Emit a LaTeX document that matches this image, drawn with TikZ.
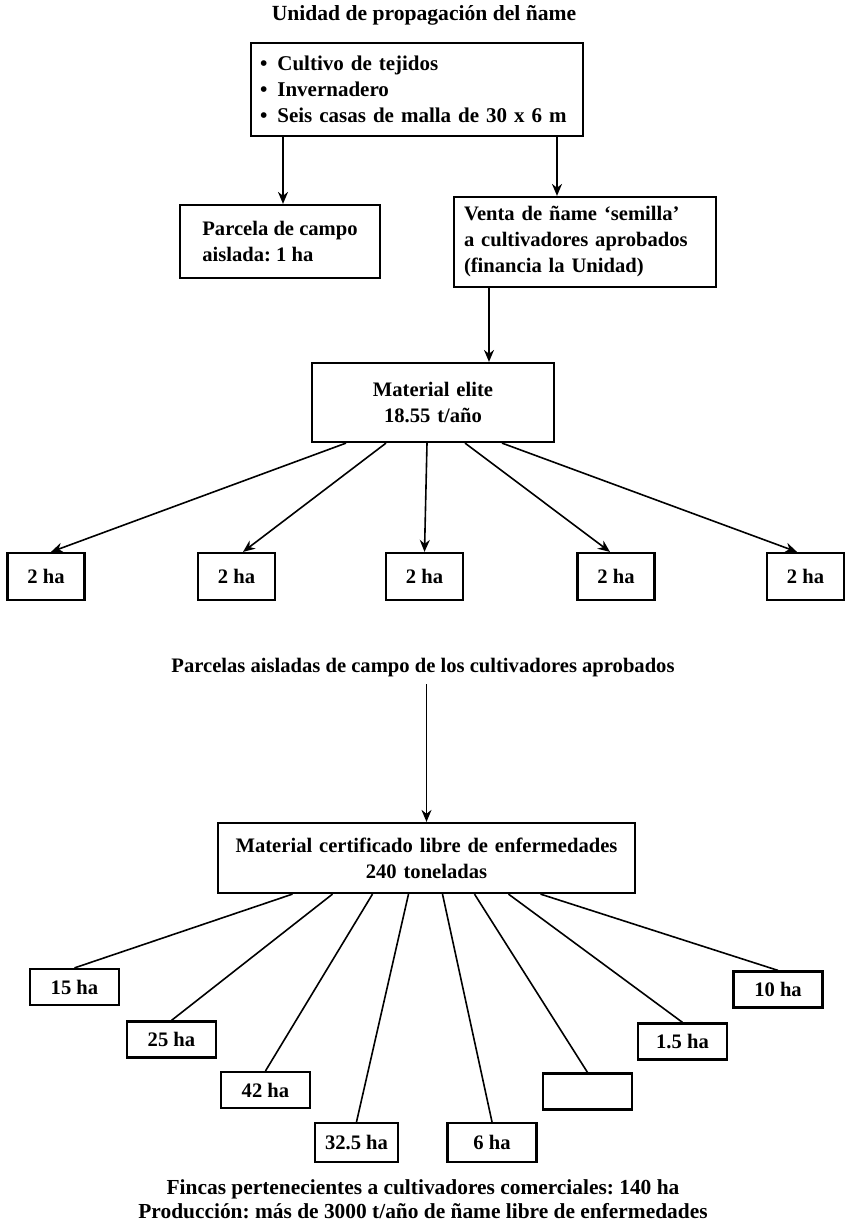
\documentclass[tikz,border=0pt]{standalone}
\usepackage{fontspec}
\setmainfont{Liberation Serif}
\usetikzlibrary{arrows.meta}
\tikzset{
  every node/.style={font=\fontsize{10.3}{13}\selectfont\bfseries},
  caja/.style={draw, line width=1.1pt, inner xsep=5pt, inner ysep=0pt},
  hacaja/.style={draw, line width=1.1pt, inner sep=0pt, minimum width=38.5pt, minimum height=23.5pt},
  finca/.style={draw, line width=1.1pt, inner sep=0pt, minimum width=44.5pt, minimum height=18pt},
  flecha/.style={line width=0.8pt, -{Stealth[length=6pt,width=5pt]}},
  rama/.style={line width=0.8pt},
}
\begin{document}
\frenchspacing
\begin{tikzpicture}[x=0.5pt,y=-0.5pt]
\useasboundingbox (0,0) rectangle (847,1225);
% unidad de propagacion
\node[font=\fontsize{10.8}{13}\selectfont\bfseries] (titulo) at (424,15){Unidad de propagación del ñame};
\node[caja, inner xsep=4.5pt, text width=157pt, align=left, minimum height=46.5pt, font=\fontsize{10.5}{13}\selectfont\bfseries] (unidad) at (417,89.5){\textbullet\hspace{5pt}Cultivo de tejidos\\ \textbullet\hspace{5pt}Invernadero\\ \textbullet\hspace{5pt}Seis casas de malla de 30 x 6 m};
\node[caja, align=left, minimum width=100pt, minimum height=36.5pt] (parcela) at (280,241.5){Parcela de campo\\ aislada: 1 ha};
\node[caja, text width=121pt, align=left, minimum height=45pt] (venta) at (585,242){Venta de ñame ‘semilla’\\ a cultivadores aprobados\\ (financia la Unidad)};
\coordinate (pin) at ([xshift=1.5pt]parcela.north);
\coordinate (vin) at ([xshift=-14pt]venta.north);
\draw[flecha](unidad.south -| pin) -- (pin);
\draw[flecha](unidad.south -| vin) -- (vin);
% material elite
\node[caja, text width=111pt, align=center, minimum height=39.5pt] (elite) at (433,402.5){Material elite\\ 18.55 t/año};
\coordinate (ein) at ([xshift=28pt]elite.north);
\draw[flecha](venta.south -| ein) -- (ein);
\node[hacaja] (ha1) at (46,576.5){2 ha};
\node[hacaja] (ha2) at (236.5,576.5){2 ha};
\node[hacaja] (ha3) at (424.5,576.5){2 ha};
\node[hacaja] (ha4) at (616,576.5){2 ha};
\node[hacaja] (ha5) at (805.5,576.5){2 ha};
\draw[flecha]([xshift=-43.5pt]elite.south) -- ([xshift=2.5pt]ha1.north);
\draw[flecha]([xshift=-23.5pt]elite.south) -- ([xshift=3.25pt]ha2.north);
\draw[flecha]([xshift=-3pt]elite.south) -- (ha3.north);
\draw[flecha]([xshift=16pt]elite.south) -- ([xshift=-3pt]ha4.north);
\draw[flecha]([xshift=34.5pt]elite.south) -- ([xshift=-4.25pt]ha5.north);
% material certificado
\node (aisladas) at (423,668){Parcelas aisladas de campo de los cultivadores aprobados};
\node[caja, text width=198.5pt, align=center, minimum height=35pt] (cert) at (426.5,858){Material certificado libre de enfermedades\\ 240 toneladas};
\draw[flecha](cert.north |- aisladas.south) -- (cert.north);
\node[finca] (f15) at (74.5,987){15 ha};
\node[finca] (f25) at (171.5,1039.5){25 ha};
\node[finca] (f42) at (265.5,1090){42 ha};
\node[finca, minimum width=41.5pt, minimum height=19.5pt] (f32) at (356.5,1142.5){32.5 ha};
\node[finca, minimum height=19.5pt] (f6) at (492,1142.5){6 ha};
\node[finca] (fvacia) at (587.5,1091.5){};
\node[finca] (f1) at (682.5,1041.5){1.5 ha};
\node[finca] (f10) at (778,989.5){10 ha};
\draw[rama]([xshift=-67pt]cert.south) -- (f15.north);
\draw[rama]([xshift=-47pt]cert.south) -- (f25.north);
\draw[rama]([xshift=-27pt]cert.south) -- (f42.north);
\draw[rama]([xshift=-9pt]cert.south) -- (f32.north);
\draw[rama]([xshift=8pt]cert.south) -- (f6.north);
\draw[rama]([xshift=24pt]cert.south) -- (fvacia.north);
\draw[rama]([xshift=41pt]cert.south) -- (f1.north);
\draw[rama]([xshift=57pt]cert.south) -- (f10.north);
\node[align=center, font=\fontsize{10.7}{12}\selectfont\bfseries] (fincas) at (423,1199){Fincas pertenecientes a cultivadores comerciales: 140 ha\\ Producción: más de 3000 t/año de ñame libre de enfermedades};
\end{tikzpicture}
\end{document}
